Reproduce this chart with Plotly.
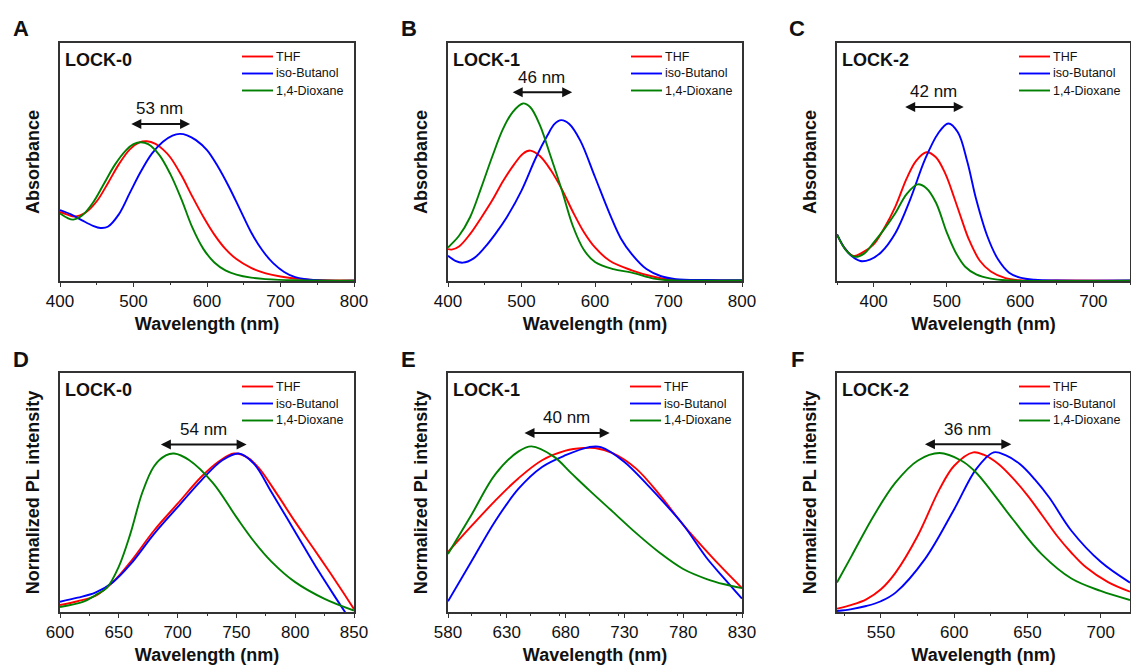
import plotly.graph_objects as go

# ---------------- data ----------------
# Panel A: LOCK-0 absorbance
A_thf_x = [400, 410, 420, 435, 450, 465, 480, 495, 508, 518, 530, 540, 550, 565, 580, 595, 610, 625, 640, 660, 680, 700, 730, 760, 800]
A_thf_y = [0.290, 0.279, 0.271, 0.288, 0.335, 0.410, 0.490, 0.553, 0.582, 0.587, 0.576, 0.553, 0.520, 0.445, 0.355, 0.270, 0.195, 0.135, 0.092, 0.055, 0.032, 0.019, 0.008, 0.003, 0.002]
A_but_x = [400, 415, 430, 445, 455, 465, 480, 495, 510, 525, 540, 553, 563, 573, 585, 600, 615, 630, 645, 660, 675, 690, 705, 720, 750, 800]
A_but_y = [0.298, 0.280, 0.255, 0.232, 0.223, 0.228, 0.280, 0.370, 0.460, 0.535, 0.585, 0.611, 0.618, 0.612, 0.592, 0.550, 0.480, 0.395, 0.300, 0.205, 0.130, 0.075, 0.038, 0.016, 0.003, 0.001]
A_dio_x = [400, 410, 418, 430, 445, 460, 475, 490, 500, 510, 520, 535, 550, 565, 580, 595, 610, 625, 640, 660, 680, 720, 800]
A_dio_y = [0.284, 0.265, 0.258, 0.275, 0.330, 0.410, 0.490, 0.550, 0.575, 0.583, 0.575, 0.530, 0.450, 0.345, 0.225, 0.135, 0.078, 0.045, 0.027, 0.014, 0.008, 0.003, 0.001]

# Panel B: LOCK-1 absorbance
B_thf_x = [400, 405, 415, 430, 445, 460, 475, 490, 502, 512, 525, 540, 555, 570, 585, 600, 620, 650, 680, 700, 750, 800]
B_thf_y = [0.134, 0.132, 0.145, 0.197, 0.265, 0.338, 0.420, 0.490, 0.535, 0.548, 0.525, 0.465, 0.385, 0.290, 0.205, 0.141, 0.085, 0.045, 0.018, 0.007, 0.003, 0.002]
B_but_x = [400, 410, 420, 435, 450, 465, 480, 500, 520, 535, 545, 554, 565, 580, 600, 620, 635, 650, 670, 690, 710, 750, 800]
B_but_y = [0.106, 0.085, 0.077, 0.095, 0.141, 0.200, 0.268, 0.380, 0.521, 0.610, 0.660, 0.676, 0.660, 0.590, 0.437, 0.282, 0.180, 0.113, 0.050, 0.020, 0.008, 0.004, 0.003]
B_dio_x = [400, 415, 430, 445, 460, 475, 488, 502, 512, 525, 540, 555, 570, 585, 600, 625, 650, 680, 700, 800]
B_dio_y = [0.141, 0.190, 0.268, 0.390, 0.521, 0.640, 0.710, 0.746, 0.730, 0.655, 0.521, 0.380, 0.230, 0.130, 0.080, 0.050, 0.035, 0.010, 0.003, 0.002]

# Panel C: LOCK-2 absorbance
C_thf_x = [350, 360, 372, 385, 400, 415, 430, 445, 458, 472, 485, 498, 510, 520, 530, 545, 560, 580, 600, 650, 750]
C_thf_y = [0.196, 0.140, 0.105, 0.120, 0.154, 0.225, 0.315, 0.430, 0.505, 0.541, 0.520, 0.450, 0.350, 0.260, 0.175, 0.085, 0.040, 0.012, 0.003, 0.002, 0.001]
C_but_x = [350, 360, 370, 382, 395, 410, 430, 450, 470, 488, 502, 515, 528, 540, 555, 570, 585, 600, 620, 650, 750]
C_but_y = [0.196, 0.140, 0.105, 0.084, 0.090, 0.120, 0.203, 0.343, 0.510, 0.620, 0.662, 0.625, 0.500, 0.343, 0.190, 0.090, 0.035, 0.014, 0.005, 0.002, 0.002]
C_dio_x = [350, 362, 374, 387, 400, 415, 430, 445, 460, 472, 485, 500, 512, 525, 540, 560, 580, 750]
C_dio_y = [0.196, 0.130, 0.102, 0.115, 0.161, 0.220, 0.287, 0.365, 0.406, 0.390, 0.330, 0.203, 0.120, 0.060, 0.028, 0.010, 0.003, 0.001]

# Panel D: LOCK-0 PL
D_thf_x = [600, 615, 630, 645, 660, 680, 700, 720, 735, 748, 760, 770, 785, 800, 815, 830, 840, 850]
D_thf_y = [0.029, 0.045, 0.067, 0.125, 0.210, 0.341, 0.453, 0.565, 0.630, 0.663, 0.645, 0.597, 0.490, 0.377, 0.270, 0.162, 0.088, 0.012]
D_but_x = [600, 615, 630, 645, 660, 680, 700, 720, 738, 752, 765, 780, 800, 820, 835, 845]
D_but_y = [0.043, 0.060, 0.081, 0.125, 0.200, 0.327, 0.439, 0.550, 0.635, 0.663, 0.620, 0.500, 0.335, 0.170, 0.055, -0.020]
D_dio_x = [600, 620, 630, 640, 650, 660, 670, 680, 690, 697, 710, 730, 750, 765, 780, 800, 825, 850]
D_dio_y = [0.021, 0.043, 0.070, 0.102, 0.190, 0.330, 0.500, 0.610, 0.655, 0.663, 0.635, 0.540, 0.397, 0.295, 0.210, 0.125, 0.055, 0.006]

# Panel E: LOCK-1 PL
E_thf_x = [580, 600, 620, 640, 660, 680, 695, 705, 720, 740, 760, 780, 800, 815, 830]
E_thf_y = [0.251, 0.360, 0.465, 0.560, 0.635, 0.675, 0.686, 0.686, 0.665, 0.600, 0.490, 0.365, 0.254, 0.175, 0.100]
E_but_x = [580, 600, 620, 640, 660, 680, 700, 710, 730, 750, 765, 780, 800, 815, 830]
E_but_y = [0.045, 0.212, 0.379, 0.516, 0.607, 0.656, 0.690, 0.690, 0.628, 0.530, 0.450, 0.365, 0.226, 0.140, 0.056]
E_dio_x = [580, 600, 620, 640, 651, 670, 685, 700, 720, 740, 760, 780, 800, 815, 830]
E_dio_y = [0.243, 0.407, 0.575, 0.672, 0.693, 0.650, 0.580, 0.510, 0.420, 0.330, 0.248, 0.180, 0.138, 0.116, 0.100]

# Panel F: LOCK-2 PL
F_thf_x = [520, 530, 540, 550, 560, 575, 590, 600, 613, 620, 630, 640, 650, 660, 670, 680, 690, 705, 720]
F_thf_y = [0.014, 0.030, 0.053, 0.095, 0.165, 0.318, 0.514, 0.612, 0.668, 0.658, 0.620, 0.560, 0.488, 0.405, 0.320, 0.248, 0.187, 0.125, 0.085]
F_but_x = [520, 530, 540, 550, 560, 580, 600, 615, 627, 635, 645, 655, 665, 680, 700, 720]
F_but_y = [0.004, 0.012, 0.025, 0.045, 0.081, 0.221, 0.430, 0.598, 0.668, 0.656, 0.618, 0.555, 0.478, 0.340, 0.210, 0.123]
F_dio_x = [520, 530, 545, 560, 575, 590, 605, 613, 620, 640, 660, 680, 700, 720]
F_dio_y = [0.123, 0.235, 0.402, 0.542, 0.633, 0.665, 0.633, 0.595, 0.548, 0.388, 0.240, 0.140, 0.088, 0.050]

solvents = ["THF", "iso-Butanol", "1,4-Dioxane"]
compounds = ["LOCK-0", "LOCK-1", "LOCK-2", "LOCK-0", "LOCK-1", "LOCK-2"]
panel_letters = ["A", "B", "C", "D", "E", "F"]
shift_labels = ["53 nm", "46 nm", "42 nm", "54 nm", "40 nm", "36 nm"]
y_titles = ["Absorbance"] * 3 + ["Normalized PL intensity"] * 3

series = [
    [(A_thf_x, A_thf_y), (A_but_x, A_but_y), (A_dio_x, A_dio_y)],
    [(B_thf_x, B_thf_y), (B_but_x, B_but_y), (B_dio_x, B_dio_y)],
    [(C_thf_x, C_thf_y), (C_but_x, C_but_y), (C_dio_x, C_dio_y)],
    [(D_thf_x, D_thf_y), (D_but_x, D_but_y), (D_dio_x, D_dio_y)],
    [(E_thf_x, E_thf_y), (E_but_x, E_but_y), (E_dio_x, E_dio_y)],
    [(F_thf_x, F_thf_y), (F_but_x, F_but_y), (F_dio_x, F_dio_y)],
]

# ---------------- layout settings ----------------
W, H = 1131, 666
FONT = "Arial, 'Liberation Sans', sans-serif"
colors = ["#ff0000", "#0000ff", "#008000"]
AXC = "#333333"
TXT = "#111111"

# pixel boxes of each plot area (left, right, top, bottom)
boxes = [(60, 354, 43, 281), (448, 742, 43, 281), (837, 1130, 43, 281),
         (60, 354, 373, 612), (448, 742, 373, 612), (837, 1130, 373, 612)]
xranges = [(400, 800), (400, 800), (350, 750), (600, 850), (580, 830), (520, 720)]
tick0s = [400, 400, 400, 600, 580, 550]
dticks = [100, 100, 100, 50, 50, 50]
arrow_spans = [(495, 577, 0.66, 0.726), (486, 569, 0.793, 0.856), (441, 523, 0.731, 0.796),
               (684.5, 758.7, 0.701, 0.763), (643.8, 717.5, 0.749, 0.812), (579, 639, 0.702, 0.765)]
letter_pos = [(11, 28), (399, 28), (787, 28), (11, 359), (399, 359), (789, 359)]
legend_left = [242, 631, 1019, 242, 630, 1019]

fig = go.Figure()
annotations = []
shapes = []
for i in range(6):
    n = "" if i == 0 else str(i + 1)
    L, R, T, B = boxes[i]
    for j, (xs, ys) in enumerate(series[i]):
        fig.add_trace(go.Scatter(
            x=xs, y=ys, mode="lines", name=solvents[j],
            line=dict(color=colors[j], width=1.9, shape="spline", smoothing=1.0),
            xaxis="x" + n, yaxis="y" + n, showlegend=False,
        ))
    fig.layout["xaxis" + n] = dict(
        domain=[L / W, R / W], range=list(xranges[i]), anchor="y" + n,
        tick0=tick0s[i], dtick=dticks[i], ticks="outside", ticklen=4, tickwidth=1.2, tickcolor=AXC,
        minor=dict(dtick=dticks[i] / 2, ticks="outside", ticklen=2, tickwidth=1, tickcolor=AXC),
        showline=True, linecolor=AXC, linewidth=1.5, mirror=True,
        showgrid=False, zeroline=False, automargin=False,
        tickfont=dict(size=17, color=TXT, family=FONT),
        title=dict(text="<b>Wavelength (nm)</b>", font=dict(size=18, color=TXT, family=FONT), standoff=7),
    )
    fig.layout["yaxis" + n] = dict(
        domain=[1 - B / H, 1 - T / H], range=[0, 1], anchor="x" + n,
        showticklabels=False, ticks="", showline=True, linecolor=AXC, linewidth=1.5, mirror=True,
        showgrid=False, zeroline=False, automargin=False,
        title=dict(text="<b>" + y_titles[i] + "</b>", font=dict(size=18, color=TXT, family=FONT), standoff=14),
    )
    # legend drawn as line samples + labels
    for j in range(3):
        yy = 1 - (T + 13.5 + 17 * j) / H
        shapes.append(dict(type="line", xref="paper", yref="paper",
                           x0=legend_left[i] / W, x1=(legend_left[i] + 31) / W, y0=yy, y1=yy,
                           line=dict(color=colors[j], width=1.9)))
        annotations.append(dict(xref="paper", yref="paper", x=(legend_left[i] + 32) / W, y=yy,
                                xanchor="left", yanchor="middle", showarrow=False, text=solvents[j],
                                font=dict(size=12.5, color=TXT, family=FONT)))
    # compound label
    annotations.append(dict(xref="x" + n + " domain", yref="y" + n + " domain", x=0.01, y=1 - 17 / (B - T),
                            xanchor="left", yanchor="middle", showarrow=False,
                            text="<b>" + compounds[i] + "</b>", font=dict(size=18, color=TXT, family=FONT)))
    # panel letter
    lx, ly = letter_pos[i]
    annotations.append(dict(xref="paper", yref="paper", x=lx / W, y=1 - ly / H, xanchor="left", yanchor="middle",
                            showarrow=False, text="<b>" + panel_letters[i] + "</b>",
                            font=dict(size=22, color=TXT, family=FONT)))
    # double arrow and shift label
    x0, x1, ya, yt = arrow_spans[i]
    annotations.append(dict(xref="x" + n, yref="y" + n, x=x1, y=ya, ax=x0, ay=ya, axref="x" + n, ayref="y" + n,
                            text="", showarrow=True, arrowhead=2, arrowside="end+start", arrowsize=1,
                            arrowwidth=2, arrowcolor=TXT))
    annotations.append(dict(xref="x" + n, yref="y" + n, x=(x0 + x1) / 2, y=yt, xanchor="center", yanchor="middle",
                            showarrow=False, text=shift_labels[i], font=dict(size=17, color=TXT, family=FONT)))

fig.update_layout(
    width=W, height=H, margin=dict(l=0, r=0, t=0, b=0, autoexpand=False),
    paper_bgcolor="white", plot_bgcolor="white",
    font=dict(family=FONT, color=TXT),
    showlegend=False,
    annotations=annotations, shapes=shapes,
)
fig.write_html("out.html")
